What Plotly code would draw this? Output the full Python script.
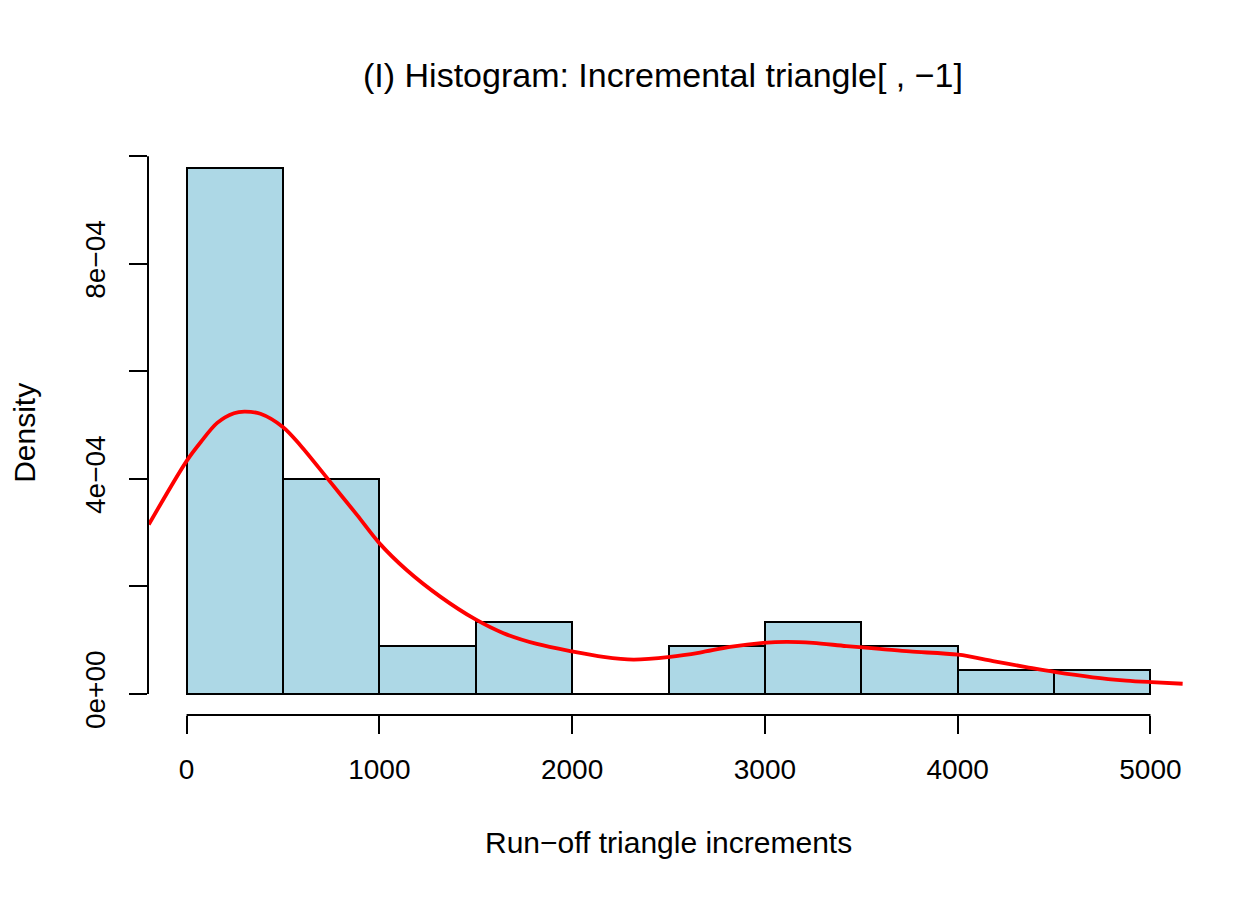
"""Histogram of run-off triangle increments with a kernel density overlay."""
import plotly.graph_objects as go

# histogram bins (width 500) and their densities
BIN_EDGES = [0, 500, 1000, 1500, 2000, 2500, 3000, 3500, 4000, 4500, 5000]
DENSITY = [9.78e-4, 4.00e-4, 0.889e-4, 1.333e-4, 0.0,
           0.889e-4, 1.333e-4, 0.889e-4, 0.444e-4, 0.444e-4]

# kernel density curve, sampled by eye
KDE_X = [-196, 0, 73, 159, 246, 300, 383, 501, 591, 737, 884, 1001, 1143,
         1316, 1497, 1644, 1817, 2002, 2162, 2318, 2508, 2663,
         2819, 2991, 3112, 3250, 3423, 3596, 3751, 4003, 4183, 4355, 4502,
         4701, 4874, 5005, 5167]
KDE_Y = [3.15, 4.33, 4.68, 5.04, 5.22, 5.25, 5.21, 4.96, 4.62, 3.98, 3.33,
         2.80, 2.30, 1.81, 1.39, 1.13, 0.93, 0.79, 0.69, 0.64,
         0.69, 0.77, 0.875, 0.95, 0.97, 0.95, 0.89, 0.84, 0.79, 0.73, 0.61,
         0.50, 0.41, 0.31, 0.25, 0.22, 0.19]
KDE_Y = [v * 1e-4 for v in KDE_Y]

X_TICKS = [0, 1000, 2000, 3000, 4000, 5000]
Y_TICKS = [0, 2e-4, 4e-4, 6e-4, 8e-4, 10e-4]
Y_TICKTEXT = ["0e+00", "", "4e\u221204", "", "8e\u221204", ""]

FONT = "Liberation Sans, Arial, Helvetica, sans-serif"
LW = 2  # outline / axis line width

mids = [(a + b) / 2 for a, b in zip(BIN_EDGES[:-1], BIN_EDGES[1:])]
widths = [b - a for a, b in zip(BIN_EDGES[:-1], BIN_EDGES[1:])]

fig = go.Figure()
fig.add_bar(x=mids, y=DENSITY, width=widths,
            marker=dict(color="#ADD8E6", line=dict(color="black", width=LW)))
# bottom edge of the bars (the empty bin still shows its baseline)
fig.add_scatter(x=[BIN_EDGES[0], BIN_EDGES[-1]], y=[0, 0], mode="lines",
                line=dict(color="black", width=LW), hoverinfo="skip")
fig.add_scatter(x=KDE_X, y=KDE_Y, mode="lines",
                line=dict(color="#FF0000", width=3.8, shape="spline",
                          smoothing=0.9))

# R-style axis lines spanning only the first to last tick
fig.add_shape(type="line", xref="x", yref="paper", x0=X_TICKS[0], x1=X_TICKS[-1],
              y0=0, y1=0, line=dict(color="black", width=LW))
fig.add_shape(type="line", xref="paper", yref="y", x0=0, x1=0,
              y0=Y_TICKS[0], y1=Y_TICKS[-1], line=dict(color="black", width=LW))

# the page has an 8px body margin, so margins are shifted by that much
fig.update_layout(
    width=1260, height=900, showlegend=False, bargap=0,
    plot_bgcolor="white", paper_bgcolor="white",
    margin=dict(l=140, r=79, t=139, b=193),
    font=dict(family=FONT, size=28, color="black"),
    xaxis=dict(range=[-200, 5200], tickvals=X_TICKS, ticks="outside",
               ticklen=18, tickwidth=LW, tickcolor="black", showgrid=False,
               zeroline=False, showline=False, ticklabelstandoff=11,
               tickfont=dict(size=28)),
    yaxis=dict(range=[-0.391e-4, 10.17e-4], tickvals=Y_TICKS,
               ticktext=Y_TICKTEXT, tickangle=-90, ticks="outside",
               ticklen=18, tickwidth=LW, tickcolor="black", showgrid=False,
               zeroline=False, showline=False, ticklabelstandoff=13,
               tickfont=dict(size=28)),
    annotations=[
        dict(text="(I) Histogram: Incremental triangle[ , \u22121]", x=0.495,
             y=1.127, xref="paper", yref="paper", showarrow=False,
             xanchor="center", yanchor="middle", font=dict(size=34)),
        dict(text="Run\u2212off triangle increments", x=0.5, y=-0.2244,
             xref="paper", yref="paper", showarrow=False, xanchor="center",
             yanchor="middle", font=dict(size=30)),
        dict(text="Density", x=-0.118, y=0.497, xref="paper", yref="paper",
             showarrow=False, textangle=-90, xanchor="center",
             yanchor="middle", font=dict(size=30)),
    ],
)

fig.write_html("out.html")
